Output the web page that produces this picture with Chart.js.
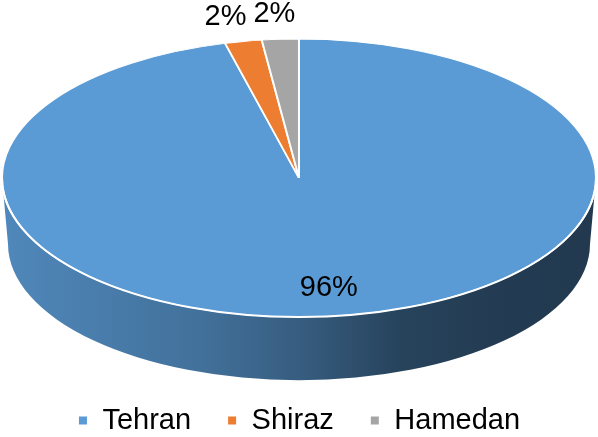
<!DOCTYPE html>
<html>
<head>
<meta charset="utf-8">
<script src="https://cdn.jsdelivr.net/npm/chart.js@4/dist/chart.umd.min.js"></script>
<style>
html,body{margin:0;padding:0;background:#fff;overflow:hidden}
#wrap{width:598px;height:437px;position:relative}
</style>
</head>
<body>
<div id="wrap"><canvas id="c"></canvas></div>
<script>
const cities=['Tehran','Shiraz','Hamedan'];
const shares=[96,2,2];
const sliceColors=['#5B9BD5','#ED7D31','#A5A5A5'];

// 3d look
const TILT=0.468;   // vertical squash of the top face
const DEPTH=66;     // height of the side wall
const NARROW=6;     // bottom rim is a bit narrower (fake perspective)
const FONT="'Liberation Sans', Arial, Helvetica, sans-serif";

function shade(hex,f){
  const n=parseInt(hex.slice(1),16);
  const r=Math.round(((n>>16)&255)*f),g=Math.round(((n>>8)&255)*f),b=Math.round((n&255)*f);
  return `rgb(${r},${g},${b})`;
}
function geom(chart){
  const arc=chart.getDatasetMeta(0).data[0];
  const rx=arc.outerRadius, ry=rx*TILT;
  return {arc,cx:arc.x,cy:chart.chartArea.top+ry,rx,ry};
}

const pie3d={
  id:'pie3d',
  beforeDatasetsDraw(chart){
    const ctx=chart.ctx;
    const g=geom(chart);
    const arcs=chart.getDatasetMeta(0).data;
    ctx.save();
    arcs.forEach((a,i)=>{
      [-2*Math.PI,0,2*Math.PI].forEach(k=>{
        const a0=Math.max(a.startAngle+k,0), a1=Math.min(a.endAngle+k,Math.PI);
        if(a1<=a0) return;
        const base=sliceColors[i];
        const grad=ctx.createLinearGradient(g.cx-g.rx,0,g.cx+g.rx,0);
        [[0,0.88],[0.33,0.73],[0.5,0.6],[0.67,0.43],[0.82,0.39],[1,0.37]].forEach(s=>grad.addColorStop(s[0],shade(base,s[1])));
        ctx.beginPath();
        ctx.ellipse(g.cx,g.cy,g.rx,g.ry,0,a0,a1,false);
        ctx.ellipse(g.cx,g.cy+DEPTH,g.rx-NARROW,g.ry-NARROW*TILT,0,a1,a0,true);
        ctx.closePath();
        ctx.fillStyle=grad;
        ctx.fill();
      });
    });
    ctx.restore();
    ctx.save();
    ctx.translate(g.cx,g.cy);
    ctx.scale(1,TILT);
    ctx.translate(-g.arc.x,-g.arc.y);
  },
  afterDatasetsDraw(chart){
    const ctx=chart.ctx;
    ctx.restore();
    const g=geom(chart);
    ctx.save();
    ctx.beginPath();
    ctx.ellipse(g.cx,g.cy,g.rx,g.ry,0,0,Math.PI,false);
    ctx.strokeStyle='#fff';
    ctx.lineWidth=2;
    ctx.stroke();
    // value labels: small slices outside, big slice inside
    ctx.fillStyle='#000';
    ctx.font='29px '+FONT;
    ctx.textAlign='center';
    ctx.textBaseline='middle';
    chart.getDatasetMeta(0).data.forEach((a,i)=>{
      const mid=(a.startAngle+a.endAngle)/2;
      const out=shares[i]<10;
      const fx=out?1.32:0.8, fy=out?1.18:0.8;
      ctx.fillText(shares[i]+'%',g.cx+fx*g.rx*Math.cos(mid),g.cy+fy*g.ry*Math.sin(mid));
    });
    ctx.restore();
  }
};

new Chart(document.getElementById('c'),{
  type:'pie',
  data:{
    labels:cities,
    datasets:[{data:shares,backgroundColor:sliceColors,borderColor:'#fff',borderWidth:2,clip:false}]
  },
  options:{
    responsive:true,
    maintainAspectRatio:false,
    animation:false,
    radius:297,
    layout:{padding:{top:39,bottom:-8}},
    plugins:{
      legend:{
        position:'bottom',
        labels:{boxWidth:10,boxHeight:10,padding:36,color:'#000',font:{family:FONT,size:29}}
      },
      tooltip:{enabled:false}
    }
  },
  plugins:[pie3d]
});
</script>
</body>
</html>
